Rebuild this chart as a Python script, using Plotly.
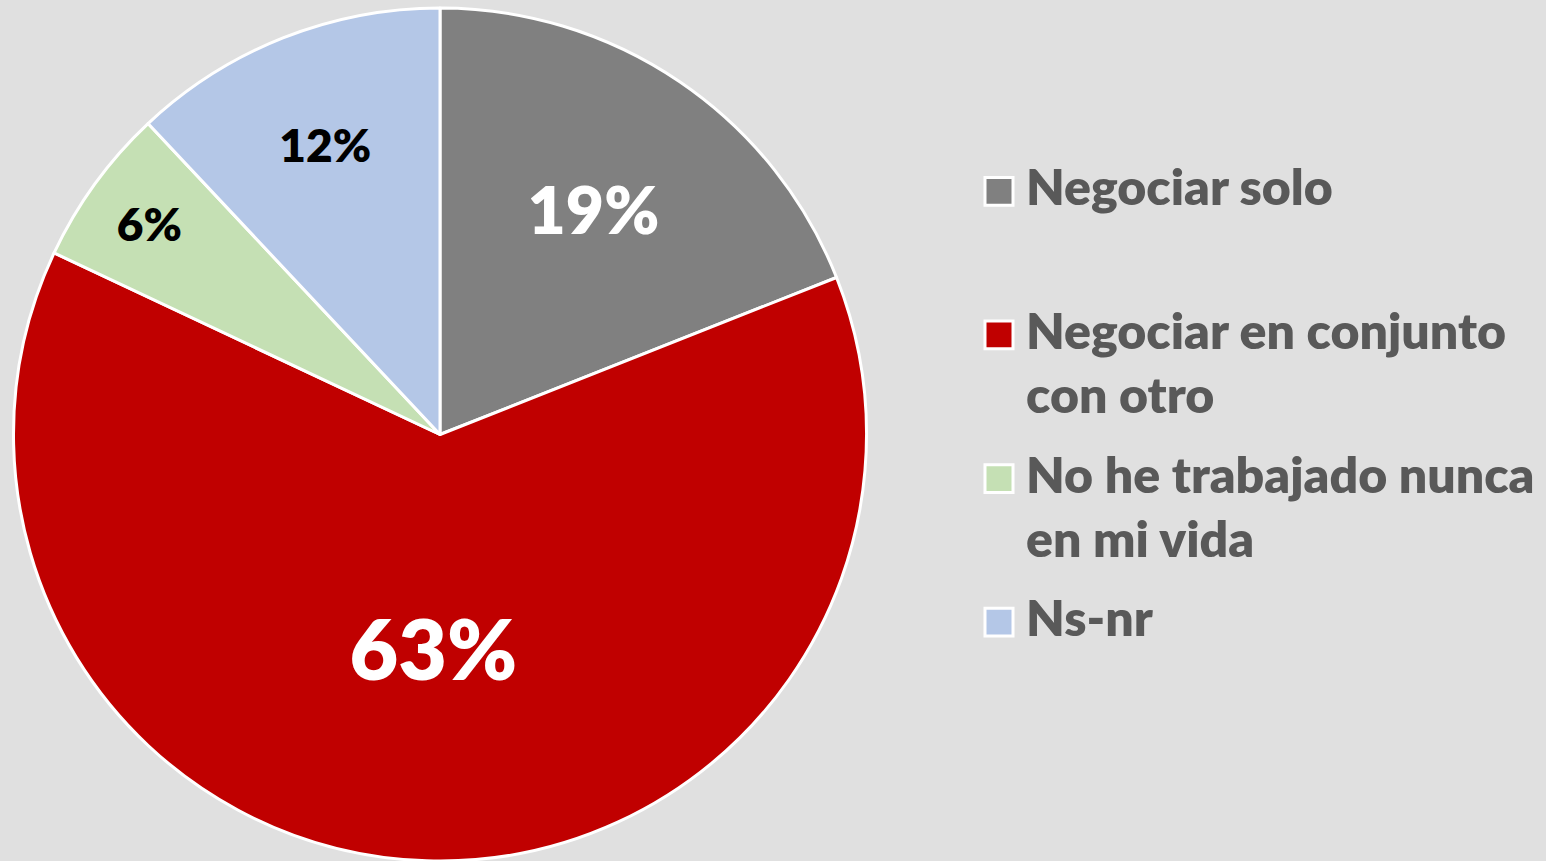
import plotly.graph_objects as go

categories = ["Negociar solo", "Negociar en conjunto<br>con otro", "No he trabajado nunca<br>en mi vida", "Ns-nr"]
values = [19, 63, 6, 12]
colors = ["#808080", "#C00000", "#C5E0B4", "#B4C7E7"]
label_colors = ["white", "white", "black", "black"]
label_sizes = [66, 84, 46, 46]

fig = go.Figure()
fig.add_trace(go.Pie(
    labels=[c.replace("<br>", " ") for c in categories],
    values=values,
    sort=False,
    direction="clockwise",
    rotation=0,
    marker=dict(colors=colors, line=dict(color="white", width=3)),
    texttemplate="%{value}%",
    textposition="inside",
    insidetextorientation="horizontal",
    textfont=dict(family="Lato", size=label_sizes, color=label_colors, weight=800),
    domain=dict(x=[0, 880 / 1546], y=[0, 1]),
    showlegend=False,
    hoverinfo="label+percent",
))

# custom legend (large square keys like the original)
row_tops = [185, 330, 475, 620]
line_gap = 65
font_size = 50
for i, cat in enumerate(categories):
    y0 = row_tops[i]
    fig.add_shape(type="rect", xref="paper", yref="paper",
                  x0=985 / 1546, x1=1013 / 1546,
                  y0=1 - (y0 + 14) / 861, y1=1 - (y0 - 14) / 861,
                  fillcolor=colors[i], line=dict(color="white", width=3))
    for j, line in enumerate(cat.split("<br>")):
        fig.add_annotation(xref="paper", yref="paper",
                           x=1024 / 1546, y=1 - (y0 + j * line_gap - 5) / 861,
                           xanchor="left", yanchor="middle", showarrow=False,
                           text=line,
                           font=dict(family="Lato", size=font_size, color="#595959", weight=800))

fig.update_layout(
    width=1546, height=861,
    margin=dict(l=0, r=0, t=8, b=0),
    paper_bgcolor="#e0e0e0",
    plot_bgcolor="#e0e0e0",
)

fig.write_html("out.html", config={"displayModeBar": False},
               post_script="document.body.style.margin='0';")
